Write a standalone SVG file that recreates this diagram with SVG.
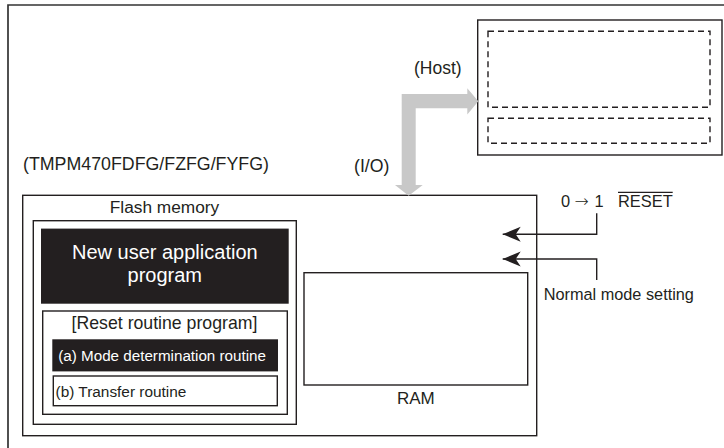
<svg xmlns="http://www.w3.org/2000/svg" width="724" height="448" viewBox="0 0 724 448">
<style>
  .t{font-family:"Liberation Sans",Arial,sans-serif;fill:#231f20}
  .box{fill:#fff;stroke:#231f20;stroke-width:1.4}
  .dark{fill:#231f20;stroke:#231f20;stroke-width:1.4}
  .dash{fill:none;stroke:#231f20;stroke-width:1.4;stroke-dasharray:6 4}
  .ln{fill:none;stroke:#231f20;stroke-width:1.4}
</style>
<defs>
  <marker id="ah" markerUnits="userSpaceOnUse" markerWidth="20" markerHeight="16" viewBox="0 -8 18 16" refX="18" refY="0" orient="auto">
    <path d="M0,-7.5 L18,0 L0,7.5 L5,0 Z" fill="#231f20"/>
  </marker>
</defs>
<rect width="724" height="448" fill="#fff"/>
<g id="frame"><path d="M724,5 H8 V448" fill="none" stroke="#333" stroke-width="1.7"/></g>
<g id="host">
  <rect class="box" x="477.7" y="20" width="244.3" height="135"/>
  <rect class="dash" x="488" y="31.3" width="222" height="76"/>
  <rect class="dash" x="488" y="118.3" width="222" height="25"/>
  <text class="t" x="414" y="74" font-size="17.5">(Host)</text>
</g>
<g id="chip">
  <text class="t" x="23" y="170" font-size="17.8">(TMPM470FDFG/FZFG/FYFG)</text>
  <rect class="box" x="22.7" y="195.3" width="514" height="240.4"/>
</g>
<g id="flash">
  <rect class="box" x="33.3" y="220.7" width="263" height="203.6"/>
  <text class="t" x="164.5" y="213.3" font-size="17.3" text-anchor="middle">Flash memory</text>
</g>
<g id="newapp">
  <rect class="dark" x="41.7" y="229.3" width="246.3" height="73.7"/>
  <text class="t" x="164.8" y="259" font-size="20" text-anchor="middle" style="fill:#fff">New user application</text>
  <text class="t" x="164.8" y="281.5" font-size="20" text-anchor="middle" style="fill:#fff">program</text>
</g>
<g id="reset">
  <rect class="box" x="42.7" y="311" width="244.6" height="103.3"/>
  <text class="t" x="164.5" y="328.5" font-size="17.7" text-anchor="middle">[Reset routine program]</text>
</g>
<g id="modedet">
  <rect class="dark" x="53" y="340" width="224.3" height="30.7"/>
  <text class="t" x="58.3" y="361" font-size="15.2" style="fill:#fff">(a) Mode determination routine</text>
</g>
<g id="transfer">
  <rect class="box" x="53.3" y="376" width="224" height="29.7"/>
  <text class="t" x="55.5" y="396.5" font-size="15.4">(b) Transfer routine</text>
</g>
<g id="ram">
  <rect class="box" x="304" y="272.7" width="223.7" height="112.3"/>
  <text class="t" x="415.8" y="404" font-size="17" text-anchor="middle">RAM</text>
</g>
<g id="resetsig">
  <text class="t" x="561" y="206.5" font-size="16.4">0<tspan x="574.5" font-family="DejaVu Sans" font-size="17" font-weight="300">→</tspan><tspan x="594.5">1</tspan><tspan x="618">RESET</tspan></text>
  <line class="ln" x1="618" y1="192.4" x2="672.7" y2="192.4" stroke-width="1.2"/>
</g>
<g id="normalmode">
  <text class="t" x="543.7" y="300" font-size="16.3">Normal mode setting</text>
</g>
<g id="connectors">
  <polygon fill="#c8c8c8" points="401.7,94 467.3,94 467.3,88.3 478.3,101.2 467.3,114.5 467.3,108.3 415.7,108.3 415.7,185 422.7,185 408.7,195.7 395,185 401.7,185"/>
  <text class="t" x="354" y="172" font-size="17.7">(I/O)</text>
  <path class="ln" d="M596.7,213.3 V234.3 H502.7" marker-end="url(#ah)"/>
  <path class="ln" d="M596.7,280 V259 H502.7" marker-end="url(#ah)"/>
</g>
</svg>
